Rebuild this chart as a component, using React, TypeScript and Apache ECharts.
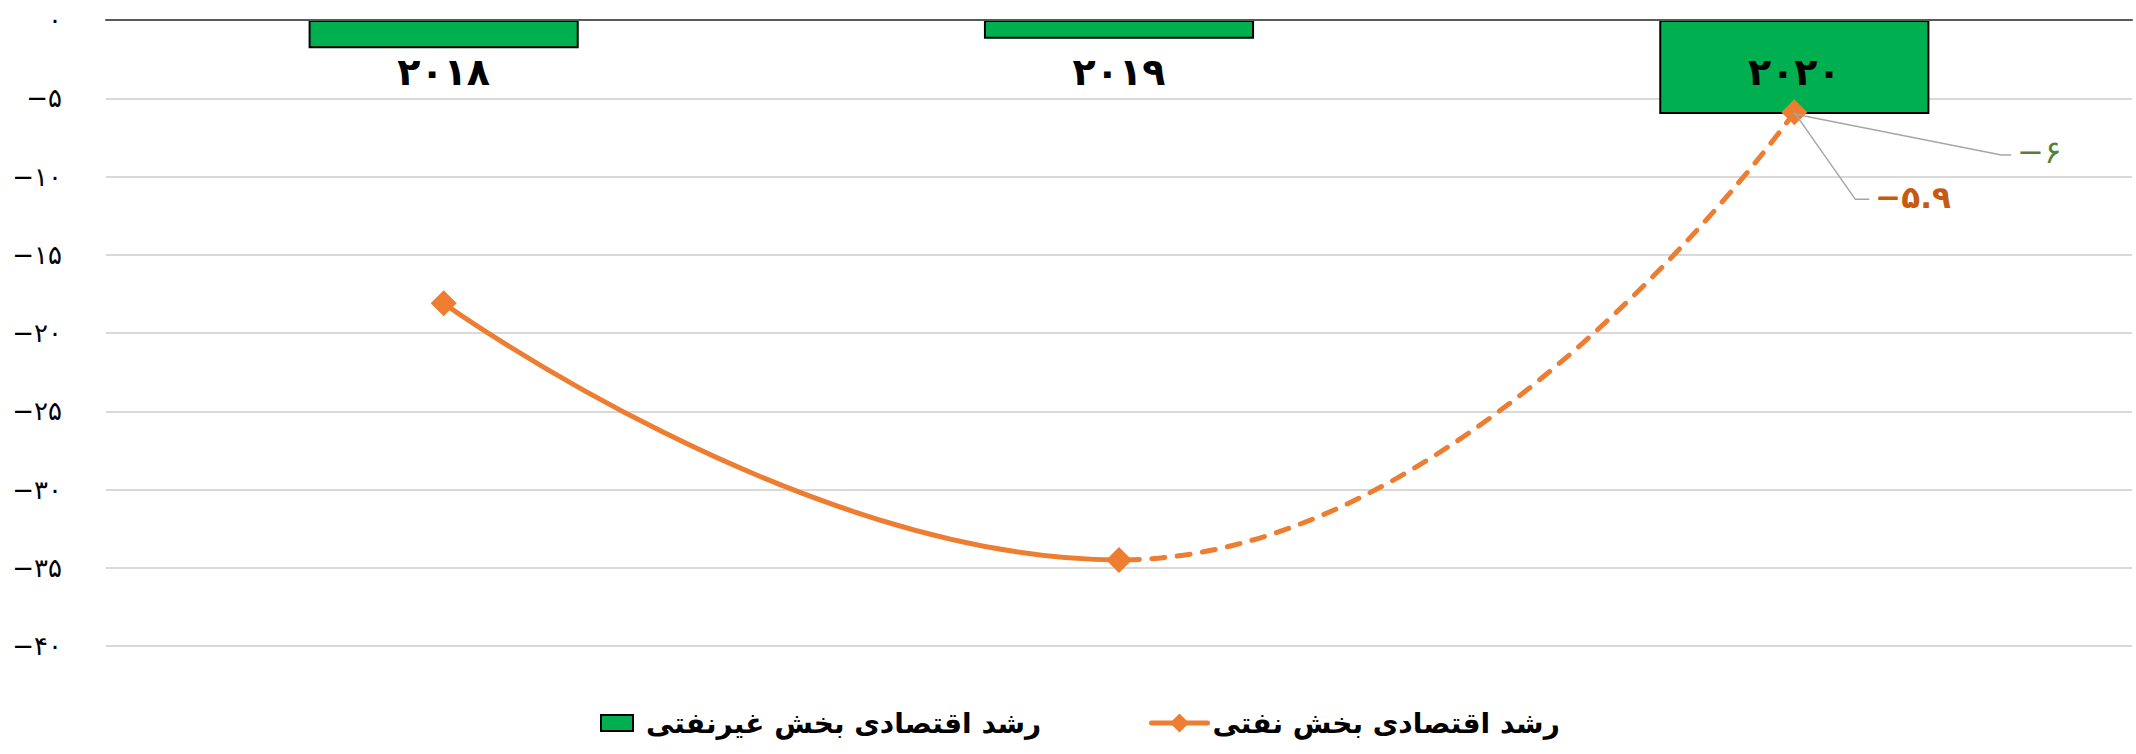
import React, { useEffect, useRef } from "react";
import * as echarts from "echarts";

const categories = ["2018", "2019", "2020"];
const nonOilGrowth = [-1.8, -1.2, -6];
const oilGrowth = [-18.1, -34.5, -5.9];
const nonOilName = "رشد اقتصادی بخش غیرنفتی";
const oilName = "رشد اقتصادی بخش نفتی";
const yMin = -40;
const yMax = 0;
const yStep = 5;

const FONT = "DejaVu Sans";
const GREEN = "#00B050";
const ORANGE = "#ED7D31";

const toFa = (v: number | string) =>
  String(v)
    .replace(/\d/g, (d) => "۰۱۲۳۴۵۶۷۸۹"[+d])
    .replace("-", "−");

export default function App() {
  const ref = useRef<HTMLDivElement>(null);
  useEffect(() => {
    const chart = echarts.init(ref.current!, null, { renderer: "svg" });
    const solidGrad = new echarts.graphic.LinearGradient(0, 0, 1, 0, [
      { offset: 0, color: ORANGE },
      { offset: 0.5, color: ORANGE },
      { offset: 0.5, color: "rgba(237,125,49,0)" },
      { offset: 1, color: "rgba(237,125,49,0)" },
    ]);
    const dashGrad = new echarts.graphic.LinearGradient(0, 0, 1, 0, [
      { offset: 0, color: "rgba(237,125,49,0)" },
      { offset: 0.5, color: "rgba(237,125,49,0)" },
      { offset: 0.5, color: ORANGE },
      { offset: 1, color: ORANGE },
    ]);
    chart.setOption({
      animation: false,
      backgroundColor: "#ffffff",
      grid: { left: 106, right: 4, top: 20, bottom: 108, containLabel: false },
      legend: [
        {
          data: [{ name: nonOilName, icon: "rect" }],
          left: 595,
          top: 704,
          itemWidth: 32,
          itemHeight: 16,
          itemGap: 10,
          textStyle: { fontFamily: FONT, fontSize: 28, fontWeight: "bold", color: "#000", padding: [0, 0, 0, 8] },
        },
        {
          data: [
            {
              name: oilName,
              itemStyle: { color: ORANGE },
              lineStyle: { color: ORANGE, width: 5 },
            },
          ],
          left: 1144,
          top: 704,
          itemWidth: 56,
          itemHeight: 24,
          itemGap: 8,
          textStyle: { fontFamily: FONT, fontSize: 28, fontWeight: "bold", color: "#000" },
        },
      ],
      xAxis: {
        type: "category",
        data: categories,
        position: "top",
        z: 10,
        axisLine: { onZero: false, lineStyle: { color: "#595959", width: 2 } },
        axisTick: { show: false },
        axisLabel: {
          inside: true,
          formatter: (v: string) => toFa(v),
          fontFamily: FONT,
          fontSize: 38,
          fontWeight: "bold",
          color: "#000",
          margin: 33,
        },
        splitLine: { show: false },
      },
      yAxis: {
        type: "value",
        min: yMin,
        max: yMax,
        interval: yStep,
        axisLine: { show: false },
        axisTick: { show: false },
        splitLine: { lineStyle: { color: "#D9D9D9", width: 2 } },
        axisLabel: {
          formatter: (v: number) => toFa(v),
          fontFamily: FONT,
          fontSize: 26,
          color: "#000",
          margin: 44,
          padding: [0, 0, 14, 0],
        },
      },
      series: [
        {
          name: nonOilName,
          type: "bar",
          data: nonOilGrowth,
          barWidth: "40%",
          itemStyle: { color: GREEN, borderColor: "#000", borderWidth: 2 },
          z: 2,
        },
        {
          name: oilName,
          type: "line",
          data: oilGrowth,
          smooth: true,
          symbol: "diamond",
          symbolSize: 26,
          itemStyle: { color: ORANGE },
          lineStyle: { color: solidGrad, width: 5, cap: "round" },
          z: 4,
        },
        {
          name: oilName,
          type: "line",
          data: oilGrowth,
          smooth: true,
          symbol: "none",
          itemStyle: { color: ORANGE },
          lineStyle: { color: dashGrad, width: 5, type: [13, 12.5], cap: "round" },
          z: 3,
        },
      ],
    });

    const last = categories.length - 1;
    const pBar = chart.convertToPixel({ xAxisIndex: 0, yAxisIndex: 0 }, [
      categories[last],
      nonOilGrowth[last],
    ]) as number[];
    const pLine = chart.convertToPixel({ xAxisIndex: 0, yAxisIndex: 0 }, [
      categories[last],
      oilGrowth[last],
    ]) as number[];
    const lineColor = "#A6A6A6";
    chart.setOption({
      graphic: [
        {
          type: "polyline",
          shape: {
            points: [
              [pBar[0], pBar[1]],
              [pBar[0] + 207, pBar[1] + 41],
              [pBar[0] + 217, pBar[1] + 41],
            ],
          },
          style: { stroke: lineColor, lineWidth: 1.5, fill: null },
          z: 20,
        },
        {
          type: "text",
          x: pBar[0] + 223,
          y: pBar[1] + 38,
          style: {
            text: toFa(nonOilGrowth[last]),
            fill: "#548235",
            fontFamily: FONT,
            fontSize: 32,
            align: "left",
            verticalAlign: "middle",
          },
          z: 20,
        },
        {
          type: "polyline",
          shape: {
            points: [
              [pLine[0], pLine[1]],
              [pLine[0] + 61, pLine[1] + 87],
              [pLine[0] + 75, pLine[1] + 87],
            ],
          },
          style: { stroke: lineColor, lineWidth: 1.5, fill: null },
          z: 20,
        },
        {
          type: "text",
          x: pLine[0] + 81,
          y: pLine[1] + 85,
          style: {
            text: toFa(oilGrowth[last]),
            fill: "#C55A11",
            fontFamily: FONT,
            fontSize: 31,
            fontWeight: "bold",
            align: "left",
            verticalAlign: "middle",
          },
          z: 20,
        },
      ],
    });
    return () => chart.dispose();
  }, []);
  return (
    <div
      ref={ref}
      style={{ position: "fixed", left: 0, top: 0, width: 2136, height: 754 }}
    />
  );
}
